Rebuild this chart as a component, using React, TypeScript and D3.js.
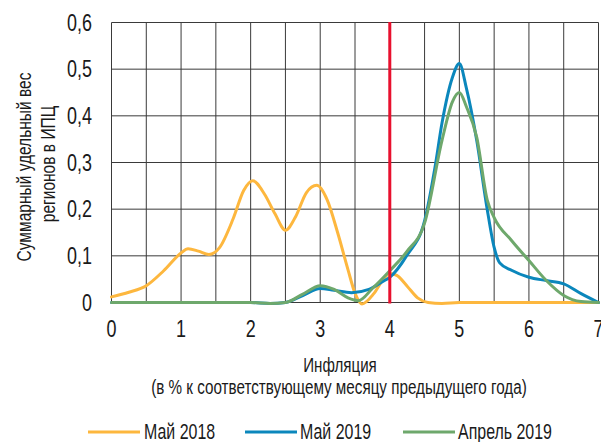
import type { ReactNode } from "react";
import { line, curveMonotoneX, scaleLinear, range } from "d3";

type Pt = [number, number];

const xTicks = [0, 1, 2, 3, 4, 5, 6, 7];
const yTicks = [0, 0.1, 0.2, 0.3, 0.4, 0.5, 0.6];
const threshold = 4;

const may2018: Pt[] = [
  [0, 0.012], [0.25, 0.022], [0.5, 0.036], [0.75, 0.068], [1.0, 0.106], [1.1, 0.115],
  [1.25, 0.11], [1.4, 0.103], [1.55, 0.117], [1.75, 0.18], [1.9, 0.24], [2.03, 0.261],
  [2.2, 0.232], [2.35, 0.19], [2.5, 0.155], [2.65, 0.185], [2.8, 0.235], [2.95, 0.251],
  [3.1, 0.22], [3.25, 0.15], [3.4, 0.07], [3.5, 0.02], [3.6, -0.003], [3.77, 0.019],
  [3.9, 0.048], [4.0, 0.062], [4.1, 0.058], [4.25, 0.035], [4.4, 0.01], [4.55, 0],
  [4.75, -0.002], [5, 0], [5.5, 0], [6, 0], [6.5, 0], [7, 0],
];

const may2019: Pt[] = [
  [0, 0], [0.5, 0], [1, 0], [1.5, 0], [2, 0], [2.28, -0.002], [2.5, 0], [2.75, 0.015],
  [3.0, 0.03], [3.2, 0.026], [3.45, 0.021], [3.7, 0.028], [3.9, 0.045], [4.0, 0.054],
  [4.25, 0.102], [4.5, 0.175], [4.65, 0.29], [4.75, 0.384], [4.9, 0.482], [5.0, 0.512],
  [5.1, 0.46], [5.25, 0.347], [5.4, 0.2], [5.5, 0.118], [5.58, 0.085], [5.75, 0.069],
  [6, 0.054], [6.25, 0.047], [6.5, 0.04], [6.75, 0.019], [7, 0],
];

const apr2019: Pt[] = [
  [0, 0], [0.5, 0], [1, 0], [1.5, 0], [2, 0], [2.28, -0.002], [2.5, 0], [2.75, 0.018],
  [3.0, 0.036], [3.2, 0.028], [3.4, 0.01], [3.55, 0.004], [3.75, 0.03], [4.0, 0.068],
  [4.25, 0.11], [4.5, 0.17], [4.75, 0.347], [4.9, 0.43], [5.0, 0.45], [5.1, 0.42],
  [5.25, 0.354], [5.4, 0.22], [5.5, 0.182], [5.75, 0.133], [6.0, 0.09], [6.25, 0.047],
  [6.5, 0.015], [6.75, 0.002], [7, 0],
];

const seriesList = [
  { name: "Май 2018", color: "#FDB73E", data: may2018 },
  { name: "Май 2019", color: "#0B87BC", data: may2019 },
  { name: "Апрель 2019", color: "#6EA86C", data: apr2019 },
];

// no narrow font installed, so Liberation Sans squeezed horizontally stands in for it
const FONT = "'Liberation Sans', Arial, sans-serif";
const W = 601;
const H = 442;
const left = 111.5;
const right = 598.5;
const top = 22.5;
const bottom = 302.5;

function NarrowText({
  x,
  y,
  size,
  squeeze = 0.73,
  anchor = "start",
  rotate = 0,
  children,
}: {
  x: number;
  y: number;
  size: number;
  squeeze?: number;
  anchor?: "start" | "middle" | "end";
  rotate?: number;
  children: ReactNode;
}) {
  return (
    <g transform={`translate(${x},${y}) rotate(${rotate}) scale(${squeeze},1)`}>
      <text dy="0.35em" textAnchor={anchor} fontSize={size} fill="#1a1a1a">
        {children}
      </text>
    </g>
  );
}

export default function App() {
  const x = scaleLinear().domain([0, 7]).range([left, right]);
  const y = scaleLinear().domain([0, 0.6]).range([bottom, top]);
  const path = line<Pt>()
    .x((d) => x(d[0]))
    .y((d) => y(d[1]))
    .curve(curveMonotoneX);

  const legendItems = [
    { x1: 88, textX: 144 },
    { x1: 245, textX: 300 },
    { x1: 403, textX: 458 },
  ];

  return (
    <svg
      width={W}
      height={H}
      style={{ position: "absolute", left: 0, top: 0, background: "#fff" }}
      fontFamily={FONT}
    >
      {range(0, 7.01, 0.5).map((v) => (
        <line key={`vx${v}`} x1={x(v)} x2={x(v)} y1={top} y2={bottom} stroke="#3a3a3a" strokeWidth={1} />
      ))}
      {yTicks.map((v) => (
        <line key={`hy${v}`} x1={left} x2={right} y1={y(v)} y2={y(v)} stroke="#3a3a3a" strokeWidth={1} />
      ))}

      {yTicks.map((v) => (
        <NarrowText key={`yl${v}`} x={92} y={y(v)} size={23} squeeze={0.78} anchor="end">
          {v === 0 ? "0" : v.toFixed(1).replace(".", ",")}
        </NarrowText>
      ))}
      {xTicks.map((v) => (
        <NarrowText key={`xl${v}`} x={x(v)} y={328.5} size={23} squeeze={0.78} anchor="middle">
          {v}
        </NarrowText>
      ))}

      {seriesList.map((s) => (
        <path
          key={s.name}
          d={path(s.data) ?? ""}
          fill="none"
          stroke={s.color}
          strokeWidth={3}
          strokeLinejoin="round"
          strokeLinecap="round"
        />
      ))}

      <line x1={x(threshold)} x2={x(threshold)} y1={top - 0.5} y2={bottom + 1} stroke="#E8102E" strokeWidth={3} />

      <NarrowText x={24} y={167} size={21} squeeze={0.74} anchor="middle" rotate={-90}>
        Суммарный удельный вес
      </NarrowText>
      <NarrowText x={48} y={164} size={21} squeeze={0.74} anchor="middle" rotate={-90}>
        регионов в ИПЦ
      </NarrowText>

      <NarrowText x={340} y={364.5} size={21} squeeze={0.72} anchor="middle">
        Инфляция
      </NarrowText>
      <NarrowText x={339} y={387} size={21} squeeze={0.725} anchor="middle">
        (в % к соответствующему месяцу предыдущего года)
      </NarrowText>

      {seriesList.map((s, i) => (
        <g key={`lg${s.name}`}>
          <line
            x1={legendItems[i].x1}
            x2={legendItems[i].x1 + 52}
            y1={432}
            y2={432}
            stroke={s.color}
            strokeWidth={3}
          />
          <NarrowText x={legendItems[i].textX} y={431} size={22} squeeze={0.725}>
            {s.name}
          </NarrowText>
        </g>
      ))}
    </svg>
  );
}
